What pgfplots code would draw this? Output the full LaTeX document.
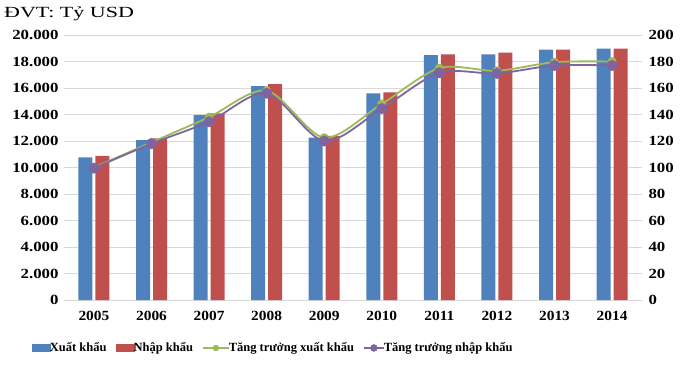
\documentclass[border=0pt]{standalone}
\usepackage{fontspec}
\setmainfont{Liberation Serif}
\newfontfamily\tickfont{Liberation Serif}[FakeStretch=1.1]
\newfontfamily\ytickfont{Liberation Serif}[FakeStretch=1.2]
\newfontfamily\titlefont{Liberation Serif}[FakeStretch=1.42]
\usepackage{pgfplots}
\pgfplotsset{compat=1.18}
\definecolor{cblue}{HTML}{4F81BD}
\definecolor{cred}{HTML}{C0504D}
\definecolor{cgreen}{HTML}{9BBB59}
\definecolor{cpurple}{HTML}{8064A2}
\definecolor{cgrid}{HTML}{D9D9D9}
\begin{document}
\begin{tikzpicture}[x=1pt,y=1pt]
\useasboundingbox (0,0) rectangle (680,365);
\pgfplotsset{
  common/.style={
    at={(64pt,65pt)}, anchor=south west,
    scale only axis, width=578pt, height=265pt,
    xmin=-0.52, xmax=9.52,
    axis line style={draw=none},
    major tick length=0pt,
    xticklabel style={font=\fontsize{14}{16}\selectfont\tickfont\bfseries},
    yticklabel style={font=\fontsize{14}{16}\selectfont\ytickfont\bfseries},
    /pgf/number format/assume math mode=true,
  }
}
\begin{axis}[common,
  ymin=0, ymax=20000,
  ytick={0,2000,...,20000},
  scaled y ticks=false,
  /pgf/number format/fixed,
  /pgf/number format/1000 sep={.},
  ymajorgrids, grid style={cgrid, line width=0.8pt},
  xtick={0,...,9},
  xticklabels={2005,2006,2007,2008,2009,2010,2011,2012,2013,2014},
  xticklabel style={yshift=-8pt},
  yticklabel style={xshift=-2pt},
  ybar=3pt, bar width=14pt,
  legend columns=4,
  legend style={at={(0.362,-0.181)}, anchor=center, draw=none, fill=none,
    font=\fontsize{12.5}{14}\selectfont\bfseries,
    /tikz/every even column/.append style={column sep=7pt},
    /tikz/every odd column/.append style={column sep=-3pt}},
  legend image code/.code={\fill[#1] (0pt,-4pt) rectangle (19pt,4pt);},
]
\addplot[fill=cblue, draw=none] coordinates {(0,10770) (1,12075) (2,13960) (3,16150) (4,12250) (5,15600) (6,18490) (7,18540) (8,18890) (9,18970)};
\addplot[fill=cred, draw=none] coordinates {(0,10870) (1,12200) (2,14090) (3,16300) (4,12380) (5,15675) (6,18540) (7,18670) (8,18890) (9,18970)};
\addlegendentry{Xuất khẩu}
\addlegendentry{Nhập khẩu}
\addlegendimage{legend image code/.code={\draw[cgreen, line width=1.8pt] (0pt,0pt) -- (26pt,0pt); \fill[cgreen] (13pt,0pt) circle (3pt);}}
\addlegendentry{Tăng trưởng xuất khẩu}
\addlegendimage{legend image code/.code={\draw[cpurple, line width=1.8pt] (0pt,0pt) -- (20pt,0pt); \fill[cpurple] (10pt,0pt) circle (3.5pt);}}
\addlegendentry{Tăng trưởng nhập khẩu}
\end{axis}
\begin{axis}[common,
  ymin=0, ymax=200,
  ytick={0,20,...,200},
  axis y line*=right,
  axis x line=none,
  xtick=\empty,
  yticklabel style={xshift=3pt},
]
\addplot[cgreen, line width=1.8pt, smooth, tension=0.5, mark=*, mark size=3.5pt, mark options={fill=cgreen, draw=cgreen}] coordinates {(0,100) (1,119) (2,138) (3,158) (4,122.5) (5,148) (6,175) (7,173) (8,179.5) (9,180)};
\addplot[cpurple, line width=1.8pt, smooth, tension=0.5, mark=*, mark size=4.5pt, mark options={fill=cpurple, draw=cpurple}] coordinates {(0,99.5) (1,118) (2,134.5) (3,156) (4,120) (5,144.5) (6,171.5) (7,171) (8,177) (9,177)};
\end{axis}
\node[anchor=west, font=\fontsize{15.5}{17}\selectfont\titlefont, inner sep=0pt] at (4,351) {ĐVT: Tỷ USD};
\end{tikzpicture}
\end{document}
